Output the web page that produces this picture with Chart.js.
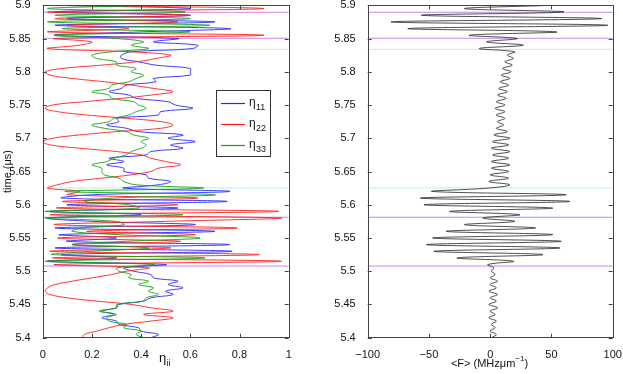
<!DOCTYPE html>
<html>
<head>
<meta charset="utf-8">
<script src="https://cdn.jsdelivr.net/npm/chart.js@4/dist/chart.umd.min.js"></script>
<style>
  body { margin: 0; background: #fff; }
  #wrap { position: relative; width: 623px; height: 374px; }
  canvas { position: absolute; top: 0; }
  #left-chart { left: 0; }
  #right-chart { left: 310px; }
</style>
</head>
<body>
<div id="wrap">
  <canvas id="left-chart" width="310" height="374"></canvas>
  <canvas id="right-chart" width="313" height="374"></canvas>
</div>
<script>
'use strict';

//************** DATA ************** */
// time (us), one sample every 5 ns
let times = [
  5.400, 5.405, 5.410, 5.415, 5.420, 5.425, 5.430, 5.435, 5.440, 5.445,
  5.450, 5.455, 5.460, 5.465, 5.470, 5.475, 5.480, 5.485, 5.490, 5.495,
  5.500, 5.505, 5.510, 5.515, 5.520, 5.525, 5.530, 5.535, 5.540, 5.545,
  5.550, 5.555, 5.560, 5.565, 5.570, 5.575, 5.580, 5.585, 5.590, 5.595,
  5.600, 5.605, 5.610, 5.615, 5.620, 5.625, 5.630, 5.635, 5.640, 5.645,
  5.650, 5.655, 5.660, 5.665, 5.670, 5.675, 5.680, 5.685, 5.690, 5.695,
  5.700, 5.705, 5.710, 5.715, 5.720, 5.725, 5.730, 5.735, 5.740, 5.745,
  5.750, 5.755, 5.760, 5.765, 5.770, 5.775, 5.780, 5.785, 5.790, 5.795,
  5.800, 5.805, 5.810, 5.815, 5.820, 5.825, 5.830, 5.835, 5.840, 5.845,
  5.850, 5.855, 5.860, 5.865, 5.870, 5.875, 5.880, 5.885, 5.890, 5.895,
  5.900
];

let eta11 = [
  0.44, 0.47, 0.40, 0.39, 0.31, 0.30, 0.24, 0.29, 0.24, 0.30,
  0.31, 0.41, 0.44, 0.53, 0.50, 0.57, 0.51, 0.55, 0.45, 0.44,
  0.37, 0.33, 0.50, 0.02, 0.30, 0.08, 0.77, 0.05, 0.76, 0.10,
  0.30, 0.07, 0.70, 0.05, 0.62, 0.20, 0.02, 0.40, 0.03, 0.55,
  0.10, 0.75, 0.08, 0.20, 0.76, 0.33, 0.47, 0.52, 0.43, 0.42,
  0.33, 0.33, 0.26, 0.33, 0.27, 0.42, 0.44, 0.57, 0.52, 0.62,
  0.51, 0.57, 0.39, 0.34, 0.26, 0.31, 0.30, 0.47, 0.48, 0.61,
  0.54, 0.51, 0.38, 0.35, 0.27, 0.32, 0.34, 0.46, 0.45, 0.60,
  0.60, 0.60, 0.46, 0.39, 0.32, 0.32, 0.36, 0.61, 0.63, 0.45,
  0.55, 0.05, 0.40, 0.76, 0.05, 0.70, 0.10, 0.60, 0.05, 0.60,
  0.05
];

let eta22 = [
  0.16, 0.17, 0.22, 0.27, 0.33, 0.44, 0.53, 0.41, 0.53, 0.44,
  0.36, 0.22, 0.10, 0.03, 0.01, 0.02, 0.05, 0.12, 0.20, 0.28,
  0.34, 0.43, 0.05, 0.97, 0.04, 0.88, 0.03, 0.52, 0.12, 0.56,
  0.06, 0.62, 0.18, 0.79, 0.05, 0.50, 0.97, 0.03, 0.96, 0.06,
  0.55, 0.08, 0.63, 0.10, 0.15, 0.02, 0.06, 0.12, 0.24, 0.36,
  0.44, 0.47, 0.56, 0.50, 0.44, 0.40, 0.30, 0.15, 0.03, 0.00,
  0.04, 0.15, 0.30, 0.48, 0.53, 0.48, 0.34, 0.18, 0.06, 0.01,
  0.04, 0.17, 0.32, 0.44, 0.53, 0.45, 0.36, 0.25, 0.12, 0.03,
  0.01, 0.08, 0.24, 0.38, 0.46, 0.52, 0.36, 0.02, 0.15, 0.20,
  0.05, 0.90, 0.02, 0.35, 0.10, 0.55, 0.05, 0.60, 0.02, 0.90,
  0.05
];

let eta33 = [
  0.41, 0.38, 0.40, 0.33, 0.34, 0.27, 0.26, 0.30, 0.23, 0.30,
  0.30, 0.41, 0.42, 0.47, 0.43, 0.45, 0.39, 0.43, 0.35, 0.36,
  0.31, 0.30, 0.45, 0.01, 0.66, 0.04, 0.20, 0.43, 0.12, 0.34,
  0.64, 0.31, 0.12, 0.16, 0.33, 0.30, 0.01, 0.57, 0.01, 0.39,
  0.35, 0.17, 0.29, 0.70, 0.09, 0.65, 0.38, 0.33, 0.31, 0.25,
  0.24, 0.24, 0.20, 0.26, 0.29, 0.34, 0.36, 0.40, 0.42, 0.40,
  0.43, 0.37, 0.34, 0.25, 0.20, 0.27, 0.29, 0.35, 0.38, 0.42,
  0.39, 0.37, 0.28, 0.27, 0.20, 0.27, 0.28, 0.35, 0.38, 0.41,
  0.36, 0.38, 0.30, 0.30, 0.22, 0.20, 0.28, 0.43, 0.36, 0.41,
  0.30, 0.05, 0.60, 0.08, 0.68, 0.02, 0.60, 0.05, 0.58, 0.02,
  0.45
];

// <F> in MHz/um
let meanF = [
  1, 5, 0, 4, 1, 5, -1, 4, 0, 6,
  -1, 5, 0, 6, -1, 5, 0, 6, 0, 4,
  1, 3, -2, 19, -27, 43, -46, 57, -52, 58,
  -47, 51, -36, 37, -21, 20, -6, 24, -33, 51,
  -54, 65, -57, 62, -47, -2, 16, -1, 15, 0,
  15, 1, 16, 1, 15, 2, 16, 1, 15, 2,
  16, 3, 14, 5, 11, 6, 12, 5, 12, 4,
  12, 5, 13, 6, 14, 7, 15, 8, 16, 9,
  17, 10, 18, 12, 19, 14, 20, -9, 27, -3,
  22, -17, 54, -67, 96, -81, 91, -56, 60, -21,
  50
];

// marker times (us)
let magentaTimes = [5.8895, 5.8504, 5.5812, 5.5078];
let cyanTimes = [5.8338, 5.6253];

let etaTicks = [0, 0.2, 0.4, 0.6, 0.8, 1];
let fTicks = [-100, -50, 0, 50, 100];
let timeTicks = [5.4, 5.45, 5.5, 5.55, 5.6, 5.65, 5.7, 5.75, 5.8, 5.85, 5.9];

//************** HELPERS ************** */
const FONT = 'Liberation Sans, Arial, Helvetica, sans-serif';
const BLUE = 'rgb(40,40,255)';
const RED = 'rgb(255,30,30)';
const GREEN = 'rgb(20,160,20)';

function pts(values) {
  let out = [];
  for (let i = 0; i < values.length; i++) {
    out.push({ x: values[i], y: times[i] });
  }
  return out;
}

function refLines(tList, color, xMin, xMax) {
  let sets = [];
  for (let i = 0; i < tList.length; i++) {
    sets.push({
      data: [{ x: xMin, y: tList[i] }, { x: xMax, y: tList[i] }],
      showLine: true,
      borderColor: color,
      borderWidth: 1,
      pointRadius: 0,
      order: 10
    });
  }
  return sets;
}

function fixTicks(list) {
  return function (scale) {
    scale.ticks = list.map(v => ({ value: v }));
  };
}

// box round the plot with inward ticks on all four sides
let framePlugin = {
  id: 'frame',
  afterDatasetsDraw(chart) {
    let c = chart.ctx;
    let a = chart.chartArea;
    let xs = chart.scales.x;
    let ys = chart.scales.y;
    c.save();
    c.strokeStyle = '#444';
    c.lineWidth = 1;
    c.beginPath();
    xs.ticks.forEach(t => {
      let px = Math.round(xs.getPixelForValue(t.value)) + 0.5;
      c.moveTo(px, a.bottom); c.lineTo(px, a.bottom - 4);
      c.moveTo(px, a.top); c.lineTo(px, a.top + 4);
    });
    ys.ticks.forEach(t => {
      let py = Math.round(ys.getPixelForValue(t.value)) + 0.5;
      c.moveTo(a.left, py); c.lineTo(a.left + 4, py);
      c.moveTo(a.right, py); c.lineTo(a.right - 4, py);
    });
    c.stroke();
    c.strokeRect(Math.round(a.left) + 0.5, Math.round(a.top) + 0.5,
      Math.round(a.right - a.left), Math.round(a.bottom - a.top));
    c.restore();
  }
};

function timeFmt(v) {
  return String(Number(v.toFixed(2)));
}

function baseScales(xMin, xMax, xList, xFmt, yWidth) {
  return {
    x: {
      type: 'linear', min: xMin, max: xMax,
      afterBuildTicks: fixTicks(xList),
      grid: { display: false }, border: { display: false },
      ticks: { color: '#111', font: { family: FONT, size: 11 }, padding: 3, maxRotation: 0, callback: xFmt },
      afterFit(s) { s.height = 36.3; s.paddingLeft = 0; s.paddingRight = 0; }
    },
    y: {
      type: 'linear', min: 5.4, max: 5.9,
      afterBuildTicks: fixTicks(timeTicks),
      grid: { display: false }, border: { display: false },
      ticks: { color: '#111', font: { family: FONT, size: 11 }, padding: 4, callback: timeFmt },
      afterFit(s) { s.width = yWidth; s.paddingTop = 0; s.paddingBottom = 0; }
    }
  };
}

//************** LEFT PANEL ************** */
let leftLabels = {
  id: 'leftLabels',
  afterDraw(chart) {
    let c = chart.ctx;
    c.save();
    c.fillStyle = '#111';
    // y title
    c.translate(7.5, 171.5);
    c.rotate(-Math.PI / 2);
    c.font = '11px ' + FONT;
    c.textAlign = 'center';
    c.textBaseline = 'middle';
    c.fillText('time (\u03bcs)', 0, 0);
    c.restore();

    c.save();
    c.fillStyle = '#111';
    c.textBaseline = 'alphabetic';
    c.textAlign = 'left';
    c.font = '13px ' + FONT;
    c.fillText('\u03b7', 159, 362);
    c.font = '9px ' + FONT;
    c.fillText('ii', 166.5, 366);

    // legend box
    c.fillStyle = '#fff';
    c.fillRect(216.5, 90.5, 54, 66);
    c.strokeStyle = '#333';
    c.lineWidth = 1;
    c.strokeRect(216.5, 90.5, 54, 66);
    let rows = [['11', BLUE, 103], ['22', RED, 124], ['33', GREEN, 145]];
    rows.forEach(r => {
      c.strokeStyle = r[1];
      c.lineWidth = 1.2;
      c.beginPath();
      c.moveTo(221, r[2] + 0.5);
      c.lineTo(245, r[2] + 0.5);
      c.stroke();
      c.fillStyle = '#111';
      c.font = '12px ' + FONT;
      c.fillText('\u03b7', 249, r[2] + 3);
      c.font = '9px ' + FONT;
      c.fillText(r[0], 256, r[2] + 7);
    });
    c.restore();
  }
};

let leftScales = baseScales(0, 1, etaTicks, v => String(v), 42.7);

new Chart(document.getElementById('left-chart'), {
  type: 'scatter',
  data: {
    datasets: [
      { label: 'eta11', data: pts(eta11), showLine: true, borderColor: BLUE, borderWidth: 0.9, pointRadius: 0, tension: 0.4, order: 3 },
      { label: 'eta22', data: pts(eta22), showLine: true, borderColor: RED, borderWidth: 0.9, pointRadius: 0, tension: 0.4, order: 2 },
      { label: 'eta33', data: pts(eta33), showLine: true, borderColor: GREEN, borderWidth: 0.9, pointRadius: 0, tension: 0.4, order: 1 }
    ].concat(refLines(magentaTimes, 'rgb(205,130,240)', 0, 1), refLines(cyanTimes, 'rgb(185,240,232)', 0, 1))
  },
  options: {
    responsive: false,
    devicePixelRatio: 1,
    animation: false,
    layout: { padding: { left: 0, right: 21.3, top: 5.3, bottom: 0 } },
    plugins: { legend: { display: false }, tooltip: { enabled: false } },
    scales: leftScales
  },
  plugins: [framePlugin, leftLabels]
});

//************** RIGHT PANEL ************** */
let rightLabels = {
  id: 'rightLabels',
  afterDraw(chart) {
    let c = chart.ctx;
    c.save();
    c.fillStyle = '#111';
    c.textBaseline = 'alphabetic';
    c.textAlign = 'left';
    c.font = '11px ' + FONT;
    let main = '<F> (MHz\u03bcm';
    let w = c.measureText(main).width;
    c.font = '8px ' + FONT;
    let sw = c.measureText('\u22121').width;
    c.font = '11px ' + FONT;
    let pw = c.measureText(')').width;
    let x0 = 179.5 - (w + sw + pw) / 2;
    c.fillText(main, x0, 367);
    c.font = '8px ' + FONT;
    c.fillText('\u22121', x0 + w, 361);
    c.font = '11px ' + FONT;
    c.fillText(')', x0 + w + sw, 367);
    c.restore();
  }
};

let rightScales = baseScales(-100, 100, fTicks, v => (v < 0 ? '\u2212' + Math.abs(v) : String(v)), 57.7);

new Chart(document.getElementById('right-chart'), {
  type: 'scatter',
  data: {
    datasets: [
      { label: 'F', data: pts(meanF), showLine: true, borderColor: '#222', borderWidth: 0.8, pointRadius: 0, tension: 0.4, order: 1 }
    ].concat(refLines(magentaTimes, 'rgb(205,130,240)', -100, 100), refLines(cyanTimes, 'rgb(185,240,232)', -100, 100))
  },
  options: {
    responsive: false,
    devicePixelRatio: 1,
    animation: false,
    layout: { padding: { left: 0, right: 10.3, top: 5.3, bottom: 0 } },
    plugins: { legend: { display: false }, tooltip: { enabled: false } },
    scales: rightScales
  },
  plugins: [framePlugin, rightLabels]
});
</script>
</body>
</html>
